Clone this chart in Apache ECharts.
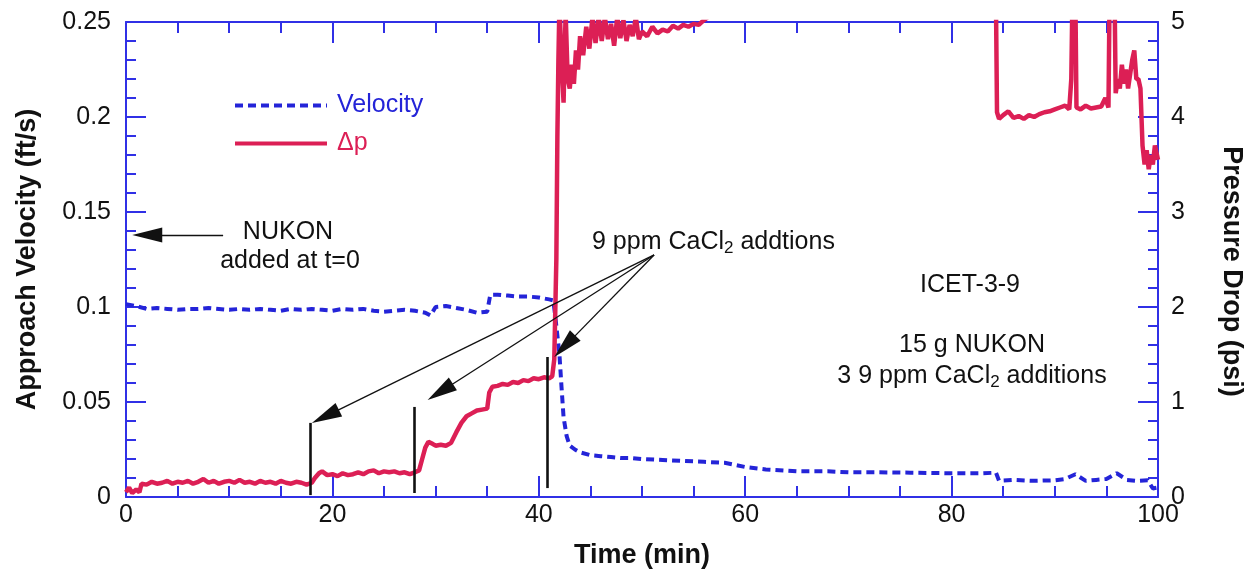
<!DOCTYPE html>
<html>
<head>
<meta charset="utf-8">
<script src="https://cdn.jsdelivr.net/npm/echarts@6/dist/echarts.min.js"></script>
<style>
html,body{margin:0;padding:0;background:#fff;}
#chart{width:1253px;height:575px;}
</style>
</head>
<body>
<div id="chart"></div>
<script>
// ---- data ----
const xTicks = [0, 20, 40, 60, 80, 100];
const velocityTime = [0,1,2,3,4,5,6,7,8,9,10,11,12,13,14,15,16,17,18,19,20,21,22,23,24,25,26,27,28,29,29.5,30,31,32,33,34,35,35.3,36,37,38,39,40,41,41.4,41.6,41.8,42.0,42.2,42.4,42.7,43,43.5,44,45,46,47,48,49,50,52,54,56,58,60,62,65,68,70,73,76,80,83,84.3,84.6,86,88,90,91,92,93,94,95,96,97,98,99,99.5,100];
const velocity = [0.1015,0.1005,0.099,0.0995,0.099,0.0985,0.099,0.099,0.0995,0.099,0.0985,0.099,0.0985,0.099,0.0985,0.098,0.099,0.0985,0.099,0.0985,0.098,0.099,0.0985,0.099,0.098,0.0975,0.098,0.0985,0.098,0.097,0.0955,0.1,0.1005,0.0995,0.0985,0.097,0.0975,0.1065,0.1065,0.106,0.1055,0.1055,0.105,0.104,0.1035,0.095,0.085,0.075,0.058,0.042,0.032,0.027,0.025,0.0235,0.022,0.0215,0.021,0.0205,0.0205,0.02,0.0195,0.019,0.0185,0.018,0.0158,0.0145,0.0135,0.0135,0.013,0.013,0.0128,0.0125,0.0125,0.0128,0.0085,0.009,0.0085,0.0088,0.0095,0.012,0.0085,0.009,0.0095,0.0125,0.009,0.0085,0.0088,0.0045,0.005];

const dpTime = [0,0.3,0.6,1.0,1.3,1.5,2,2.5,3,3.5,4,4.5,5,5.5,6,6.5,7,7.5,8,8.5,9,9.5,10,10.5,11,11.5,12,12.5,13,13.5,14,14.5,15,15.5,16,16.5,17,17.5,18,18.3,18.7,19,19.5,20,20.5,21,21.5,22,22.5,23,23.5,24,24.5,25,25.5,26,26.5,27,27.5,28,28.4,28.7,29,29.3,29.7,30,30.5,31,31.5,32,32.5,33,33.5,34,34.5,35,35.2,35.5,36,36.5,37,37.5,38,38.5,39,39.5,40,40.5,41,41.3,41.5,41.7,41.8,41.9,42.0,42.2,42.4,42.6,42.8,43.0,43.2,43.4,43.6,43.8,44.0,44.3,44.6,44.9,45.2,45.5,45.8,46.1,46.4,46.7,47.0,47.3,47.6,47.9,48.2,48.5,48.8,49.1,49.4,49.7,50,50.5,51,51.5,52,52.5,53,53.5,54,54.5,55,55.5,56,57,60,70,80,84.3,84.4,84.6,85,85.5,86,86.5,87,87.5,88,88.5,89,89.5,90,90.5,91,91.4,91.6,91.7,92.0,92.1,92.5,93,93.5,94,94.5,94.9,95.2,95.3,95.8,95.9,96.1,96.3,96.5,96.7,96.9,97.1,97.3,97.5,97.7,97.9,98.1,98.3,98.5,98.7,98.9,99.1,99.3,99.5,99.7,100];
const deltaP = [0.05,0.10,0.04,0.08,0.05,0.14,0.13,0.16,0.14,0.15,0.17,0.14,0.16,0.15,0.17,0.14,0.16,0.19,0.15,0.17,0.14,0.16,0.17,0.15,0.18,0.15,0.16,0.14,0.17,0.15,0.16,0.14,0.17,0.15,0.14,0.16,0.15,0.13,0.15,0.20,0.25,0.27,0.23,0.24,0.22,0.25,0.23,0.24,0.26,0.24,0.27,0.28,0.25,0.27,0.26,0.27,0.25,0.26,0.24,0.26,0.28,0.40,0.52,0.58,0.56,0.54,0.55,0.54,0.57,0.68,0.78,0.85,0.88,0.91,0.92,0.93,1.10,1.16,1.17,1.19,1.18,1.21,1.20,1.23,1.22,1.25,1.24,1.26,1.25,1.27,1.45,2.5,3.8,4.6,5.2,4.6,4.15,5.1,4.4,4.3,4.55,4.35,4.7,4.5,4.85,4.65,4.95,4.72,5.05,4.78,5.05,4.8,5.05,4.82,4.98,4.75,5.05,4.83,5.02,4.8,4.97,4.85,5.05,4.82,4.9,4.85,4.95,4.88,4.92,4.9,4.96,4.93,4.97,4.95,4.98,4.97,5.02,5.1,5.2,5.2,5.2,5.2,4.05,3.98,4.02,4.06,3.99,4.01,3.98,4.02,4.0,4.03,4.05,4.06,4.08,4.1,4.12,4.08,4.4,5.2,5.2,4.1,4.08,4.12,4.09,4.1,4.11,4.2,4.1,5.2,5.2,4.25,4.4,4.3,4.55,4.35,4.5,4.3,4.45,4.6,4.7,4.4,4.4,4.3,3.7,3.5,3.65,3.45,3.6,3.5,3.7,3.55];

// CaCl2 addition marks: [time, velocity-scale top of marker]
const additionTimes = [17.9, 27.95, 40.8];
const additionTops = [0.039, 0.0474, 0.0737];
const additionBottoms = [0.001, 0.0021, 0.0047];

// ---- styles ----
const BLUE = '#2424d8';
const AXIS = '#3030e6';
const RED = '#dc1f55';
const FONT = '"Liberation Sans", Arial, sans-serif';

const chart = echarts.init(document.getElementById('chart'), null, {renderer: 'canvas'});

function axisCommon() {
  return {
    axisLine: {show: true, onZero: false, lineStyle: {color: AXIS, width: 2}},
    axisTick: {show: true, inside: true, lineStyle: {color: AXIS, width: 2}},
    minorTick: {show: true, lineStyle: {color: AXIS, width: 2}},
    splitLine: {show: false},
    minorSplitLine: {show: false},
    axisLabel: {color: '#111', fontSize: 25, fontFamily: FONT},
    nameTextStyle: {color: '#111', fontSize: 27, fontWeight: 'bold', fontFamily: FONT}
  };
}

const arrowEnd = {symbol: 'triangle', symbolSize: [15, 30]};
const src = [51.17, 0.1274];
const markData = [
  [{coord: src, symbol: 'none'}, Object.assign({coord: [19.32, 0.0424]}, arrowEnd)],
  [{coord: src, symbol: 'none'}, Object.assign({coord: [30.45, 0.0553]}, arrowEnd)],
  [{coord: src, symbol: 'none'}, Object.assign({coord: [42.52, 0.0793]}, arrowEnd)],
  [{coord: [9.41, 0.1379], symbol: 'none'}, Object.assign({coord: [2.06, 0.1379]}, arrowEnd)]
];
additionTimes.forEach(function (t, i) {
  markData.push([
    {coord: [t, additionBottoms[i]], symbol: 'none', lineStyle: {width: 2.6}},
    {coord: [t, additionTops[i]], symbol: 'none'}
  ]);
});

const subRich = {
  m: {fontSize: 25, lineHeight: 30, fontFamily: FONT, fill: '#111', verticalAlign: 'middle'},
  s: {fontSize: 17, lineHeight: 17, fontFamily: FONT, fill: '#111', verticalAlign: 'bottom'}
};
function txt(x, y, text, align) {
  return {
    type: 'text', x: x, y: y, silent: true,
    style: {text: text, fill: '#111', fontSize: 25, fontFamily: FONT, align: align || 'center', verticalAlign: 'middle'}
  };
}
function richTxt(x, y, text, align) {
  return {
    type: 'text', x: x, y: y, silent: true,
    style: {text: text, fill: '#111', fontSize: 25, fontFamily: FONT, align: align || 'center', verticalAlign: 'middle', rich: subRich}
  };
}

const option = {
  animation: false,
  backgroundColor: '#fff',
  grid: {left: 126, right: 93, top: 22, bottom: 78, containLabel: false},
  legend: {
    orient: 'vertical', left: 233, top: 91, padding: 0, itemGap: 9,
    itemWidth: 92, itemHeight: 22,
    itemStyle: {opacity: 0},
    lineStyle: {width: 4},
    textStyle: {fontSize: 25, fontFamily: FONT, padding: [0, 0, 0, 5], lineHeight: 29},
    data: [
      {name: 'Velocity', textStyle: {color: BLUE}},
      {name: 'Δp', textStyle: {color: RED}}
    ]
  },
  xAxis: [
    Object.assign(axisCommon(), {
      type: 'value', min: xTicks[0], max: xTicks[xTicks.length - 1], interval: 20, position: 'bottom',
      name: 'Time (min)', nameLocation: 'middle', nameGap: 45
    }),
    Object.assign(axisCommon(), {
      type: 'value', min: xTicks[0], max: xTicks[xTicks.length - 1], interval: 20, position: 'top'
    })
  ],
  yAxis: [
    Object.assign(axisCommon(), {
      type: 'value', min: 0, max: 0.25, interval: 0.05, position: 'left',
      name: 'Approach Velocity (ft/s)', nameLocation: 'middle', nameRotate: 90, nameGap: 85
    }),
    Object.assign(axisCommon(), {
      type: 'value', min: 0, max: 5, interval: 1, position: 'right',
      name: 'Pressure Drop (psi)', nameLocation: 'middle', nameRotate: -90, nameGap: 60
    })
  ],
  series: [
    {
      name: 'Velocity', type: 'line', xAxisIndex: 0, yAxisIndex: 0,
      data: velocityTime.map(function (t, i) { return [t, velocity[i]]; }),
      symbol: 'none', showSymbol: false, z: 2,
      lineStyle: {color: BLUE, width: 4, type: [8, 5]},
      itemStyle: {color: BLUE},
      markLine: {
        silent: true, animation: false,
        label: {show: false},
        lineStyle: {color: '#111', width: 1.3, type: 'solid'},
        itemStyle: {color: '#111'},
        emphasis: {disabled: true},
        data: markData
      }
    },
    {
      name: 'Δp', type: 'line', xAxisIndex: 0, yAxisIndex: 1,
      data: dpTime.map(function (t, i) { return [t, deltaP[i]]; }),
      symbol: 'none', showSymbol: false, z: 3,
      lineStyle: {color: RED, width: 4.5},
      itemStyle: {color: RED}
    }
  ],
  graphic: [
    txt(288, 232, 'NUKON'),
    txt(290, 261, 'added at t=0'),
    richTxt(592, 242, '{m|9 ppm CaCl}{s|2}{m| addtions}', 'left'),
    txt(970, 285, 'ICET-3-9'),
    txt(972, 345, '15 g NUKON'),
    richTxt(972, 376, '{m|3 9 ppm CaCl}{s|2}{m| additions}')
  ]
};

// axis tick lengths
option.xAxis.forEach(function (a) { a.axisTick.length = 21; a.minorTick.length = 11; a.minorTick.splitNumber = 4; a.axisLabel.margin = 6; });
option.xAxis[1].axisLabel.show = false;
option.yAxis.forEach(function (a) { a.axisTick.length = 20; a.minorTick.length = 10; a.minorTick.splitNumber = 5; });
option.yAxis[0].axisLabel.margin = 15;
option.yAxis[1].axisLabel.margin = 13;
option.yAxis[1].nameTextStyle.padding = [0, 0, 0, 24];

chart.setOption(option);
</script>
</body>
</html>
